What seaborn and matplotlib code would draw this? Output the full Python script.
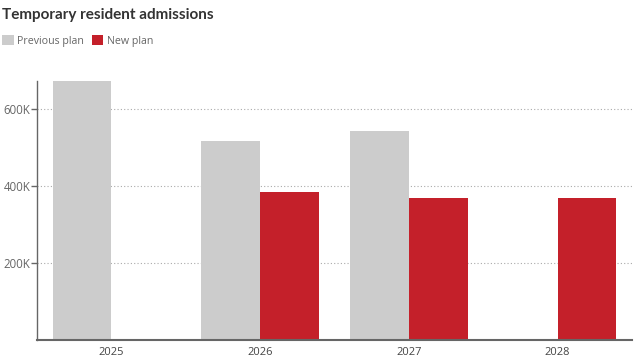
import numpy as np
import pandas as pd
import matplotlib
matplotlib.use("Agg")
import matplotlib.pyplot as plt
import seaborn as sns
from matplotlib.ticker import FuncFormatter
from matplotlib.patches import Patch

years = ["2025", "2026", "2027", "2028"]
previous_plan = [673650, 516600, 543600, np.nan]
new_plan = [np.nan, 385000, 370000, 370000]
series_names = ["Previous plan", "New plan"]
colors = ["#cccccc", "#c4202a"]
title = "Temporary resident admissions"
yticks = [200000, 400000, 600000]

df = pd.DataFrame({
    "year": years * 2,
    "value": previous_plan + new_plan,
    "plan": [series_names[0]] * 4 + [series_names[1]] * 4,
})

sns.set_theme(style="white")
plt.rcParams["font.family"] = ["Open Sans", "DejaVu Sans"]

fig = plt.figure(figsize=(6.36, 3.64), dpi=100)
ax = fig.add_axes([0.0582, 0.0659, 0.9355, 0.7116])

sns.barplot(data=df, x="year", y="value", hue="plan", hue_order=series_names,
            order=years, palette=colors, width=0.79, saturation=1,
            linewidth=0, legend=False, ax=ax)

ax.set_ylim(0, max(previous_plan[0], 0))
ax.set_xlim(-0.5, 3.5)
ax.set_yticks(yticks)
ax.yaxis.set_major_formatter(FuncFormatter(lambda v, p: f"{int(v/1000)}K"))
ax.set_xlabel("")
ax.set_ylabel("")
ax.grid(axis="y", linestyle=(0, (1, 2)), color="#aaaaaa", linewidth=0.8)
ax.set_axisbelow(True)
for s in ["top", "right"]:
    ax.spines[s].set_visible(False)
ax.spines["left"].set_color("#666666")
ax.spines["left"].set_linewidth(1.0)
ax.spines["bottom"].set_color("#666666")
ax.spines["bottom"].set_linewidth(1.5)
ax.tick_params(axis="y", which="major", length=4, width=1, color="#666666",
               labelsize=8.3, labelcolor="#666666", pad=1, left=True)
ax.tick_params(axis="x", length=0, labelsize=8, labelcolor="#444444", pad=5)

fig.text(0.003, 0.960, title, fontsize=11, fontweight="bold", color="#333333",
         ha="left", va="center", family=["Lato", "DejaVu Sans"])

handles = [Patch(facecolor=c, edgecolor="none") for c in colors]
fig.legend(handles, series_names, loc="center left", bbox_to_anchor=(-0.003, 0.888),
           ncol=2, frameon=False, fontsize=7.7, handlelength=1.1, handleheight=1.1,
           handletextpad=0.3, columnspacing=0.7, labelcolor="#666666", borderaxespad=0)

fig.savefig("out.png", dpi=100)
